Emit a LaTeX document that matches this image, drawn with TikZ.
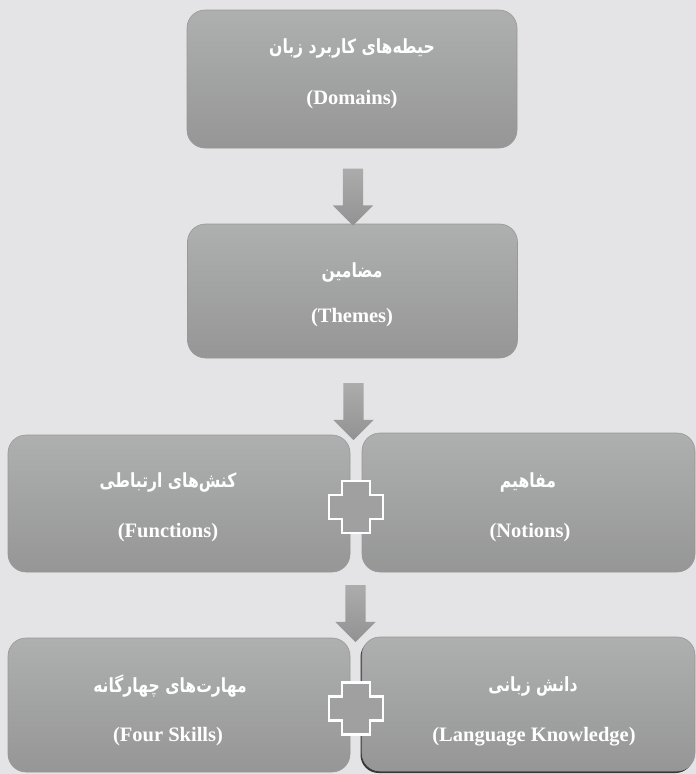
\documentclass[tikz,border=0pt]{standalone}
\usepackage{fontspec}
\usepackage{graphicx}
\setmainfont{Liberation Serif}
\newfontfamily\fafont[Script=Arabic]{DejaVu Sans}
\TeXXeTstate=1
\usetikzlibrary{shapes.arrows,calc,shadows}
\definecolor{bg}{RGB}{228,228,230}
\definecolor{boxtop}{RGB}{174,175,175}
\definecolor{boxbot}{RGB}{150,150,150}
\definecolor{boxedge}{RGB}{152,152,152}
\definecolor{arrtop}{RGB}{172,172,172}
\definecolor{arrbot}{RGB}{146,146,146}
\definecolor{plusfill}{RGB}{160,160,160}
\definecolor{shadowc}{RGB}{55,55,55}
\newcommand{\fatxt}[1]{\scalebox{0.8}[1]{\beginR #1\endR}}
\begin{document}
\begin{tikzpicture}[x=1pt,y=-1pt,
  boxshape/.style={rectangle, rounded corners=18pt, top color=boxtop, bottom color=boxbot, draw=boxedge, line width=0.6pt, inner sep=0pt},
  fatext/.style={text=white, font=\fafont\bfseries\fontsize{19.5}{22}\selectfont, inner sep=0pt},
  entext/.style={text=white, font=\bfseries\fontsize{20.5}{24}\selectfont, inner sep=0pt},
  downarrow/.style={single arrow, shape border rotate=270, minimum height=57pt, minimum width=40pt, single arrow head extend=10pt, inner sep=10pt, top color=arrtop, bottom color=arrbot, draw=none},
  plusstyle/.style={fill=plusfill, draw=white, line width=2.6pt, line join=miter}
]
\fill[bg] (0,0) rectangle (696,774);
\useasboundingbox (0,0) rectangle (696,774);

% boxes
\node[boxshape, minimum width=330pt, minimum height=138pt] (b1) at (352,79) {};
\node[boxshape, minimum width=330pt, minimum height=134pt] (b2) at (352.5,291) {};
\node[boxshape, minimum width=342pt, minimum height=137pt] (l3) at (179,503.5) {};
\node[boxshape, minimum width=333pt, minimum height=139pt] (r3) at (528.5,502.5) {};
\node[boxshape, minimum width=342pt, minimum height=134pt] (l4) at (179,705) {};
\node[boxshape, minimum width=333pt, minimum height=134pt, drop shadow={shadow xshift=-1.5pt, shadow yshift=-2pt, fill=shadowc, opacity=1}] (r4) at (528.5,704) {};

% arrows
\node[downarrow] (a1) at (353,192) {};
\node[downarrow] (a2) at (353.5,406.5) {};
\node[downarrow] (a3) at (355.5,608.5) {};

% plus signs
\coordinate (p3) at ($(l3.east)!0.5!(r3.west)+(0,4)$);
\coordinate (p4) at ($(l4.east)!0.5!(r4.west)+(0,4)$);
\foreach \p in {p3,p4}{
  \draw[plusstyle] (\p) ++(-14,-26) -- ++(28,0) -- ++(0,14) -- ++(13,0) -- ++(0,24) -- ++(-13,0) -- ++(0,14) -- ++(-28,0) -- ++(0,-14) -- ++(-13,0) -- ++(0,-24) -- ++(13,0) -- cycle;
}

% texts
\node[fatext] (b1fa) at (352,48) {\fatxt{حیطه‌های کاربرد زبان}};
\node[entext] (b1en) at (352,100) {(Domains)};
\node[fatext] (b2fa) at (352,272) {\fatxt{مضامین}};
\node[entext] (b2en) at (352,318) {(Themes)};
\node[fatext] (l3fa) at (168,482) {\fatxt{کنش‌های ارتباطی}};
\node[entext] (l3en) at (168,533) {(Functions)};
\node[fatext] (r3fa) at (528,482) {\fatxt{مفاهیم}};
\node[entext] (r3en) at (530,533) {(Notions)};
\node[fatext] (l4fa) at (170,686) {\fatxt{مهارت‌های چهارگانه}};
\node[entext] (l4en) at (168,737) {(Four Skills)};
\node[fatext] (r4fa) at (533,686) {\fatxt{دانش زبانی}};
\node[entext] (r4en) at (534,737) {(Language Knowledge)};
\end{tikzpicture}
\end{document}
